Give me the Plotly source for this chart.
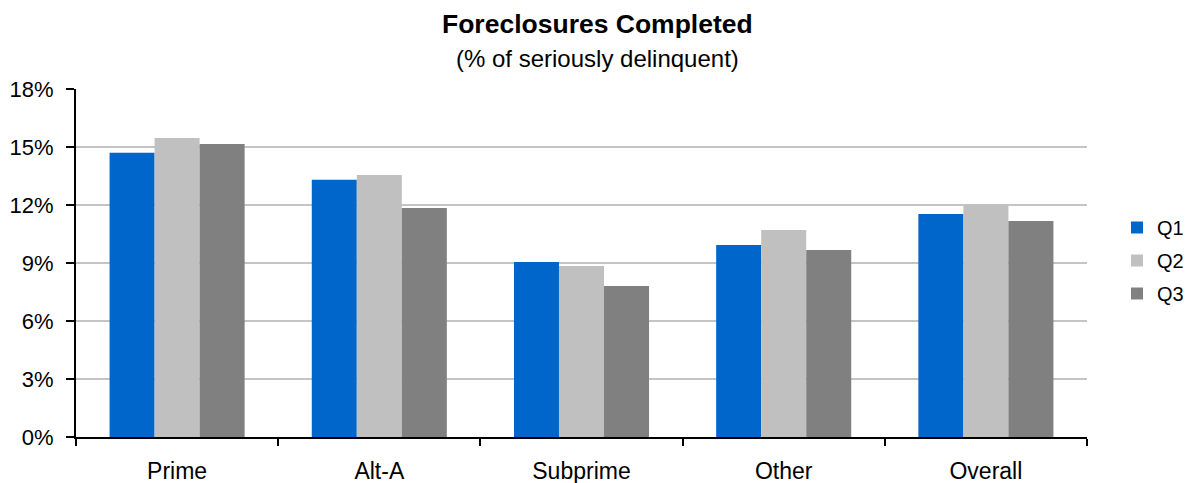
import plotly.graph_objects as go

categories = ["Prime", "Alt-A", "Subprime", "Other", "Overall"]
q1 = [14.7, 13.3, 9.05, 9.93, 11.54]
q2 = [15.47, 13.55, 8.85, 10.71, 12.02]
q3 = [15.16, 11.85, 7.81, 9.67, 11.17]
series_names = ["Q1", "Q2", "Q3"]
colors = ["#0066CC", "#C0C0C0", "#808080"]
y_ticks = [0, 3, 6, 9, 12, 15, 18]
y_tick_labels = [f"{v}%" for v in y_ticks]

FONT = "Liberation Sans, Arial, sans-serif"

fig = go.Figure()
for name, vals, col in zip(series_names, [q1, q2, q3], colors):
    fig.add_trace(go.Bar(x=categories, y=vals, name=name, marker_color=col,
                         marker_line_width=0, legendgroup=name))

# The page body adds an 8px offset; size the figure so the window matches.
OFF = 8
W, H = 1195 - OFF, 483 - OFF
PL, PR, PT, PB = 76, 1087, 89, 437  # plot area in window pixels
L, R, T, B = PL - OFF, (W + OFF) - PR, PT - OFF, (H + OFF) - PB
plot_w = PR - PL
plot_h = PB - PT


def px_x(xw):
    return (xw - PL) / plot_w


def px_y(yw):
    return (PB - yw) / plot_h


fig.update_layout(
    width=W, height=H,
    margin=dict(l=L, r=R, t=T, b=B, pad=0, autoexpand=False),
    paper_bgcolor="white", plot_bgcolor="white",
    font=dict(family=FONT, color="black", size=22),
    barmode="group", bargap=0.332, bargroupgap=0,
    showlegend=True,
    legend=dict(x=px_x(1117), xanchor="left", y=px_y(260.5), yanchor="middle",
                font=dict(family=FONT, size=20, color="black"),
                traceorder="grouped", tracegroupgap=4, itemwidth=30,
                bgcolor="rgba(0,0,0,0)"),
    annotations=[
        dict(text="<b>Foreclosures Completed</b>", xref="paper", yref="paper",
             x=px_x(597.5), y=px_y(24), xanchor="center", yanchor="middle",
             showarrow=False, font=dict(family=FONT, size=26.5, color="black")),
        dict(text="(% of seriously delinquent)", xref="paper", yref="paper",
             x=px_x(597.5), y=px_y(58), xanchor="center", yanchor="middle",
             showarrow=False, font=dict(family=FONT, size=24, color="black")),
    ],
)

fig.update_xaxes(showline=True, linecolor="black", linewidth=2,
                 ticks="outside", tickson="boundaries", ticklen=7, tickwidth=2,
                 tickcolor="black", showgrid=False, tickfont=dict(size=23),
                 ticklabelstandoff=12, automargin=False)
fig.update_yaxes(range=[0, 18], tickmode="array", tickvals=y_ticks,
                 ticktext=y_tick_labels,
                 showline=True, linecolor="black", linewidth=2,
                 ticks="outside", ticklen=8, tickwidth=2, tickcolor="black",
                 showgrid=True, gridcolor="#C4C4C4", gridwidth=2,
                 zeroline=False, tickfont=dict(size=22), ticklabelstandoff=8,
                 automargin=False)

fig.write_html("out.html")
